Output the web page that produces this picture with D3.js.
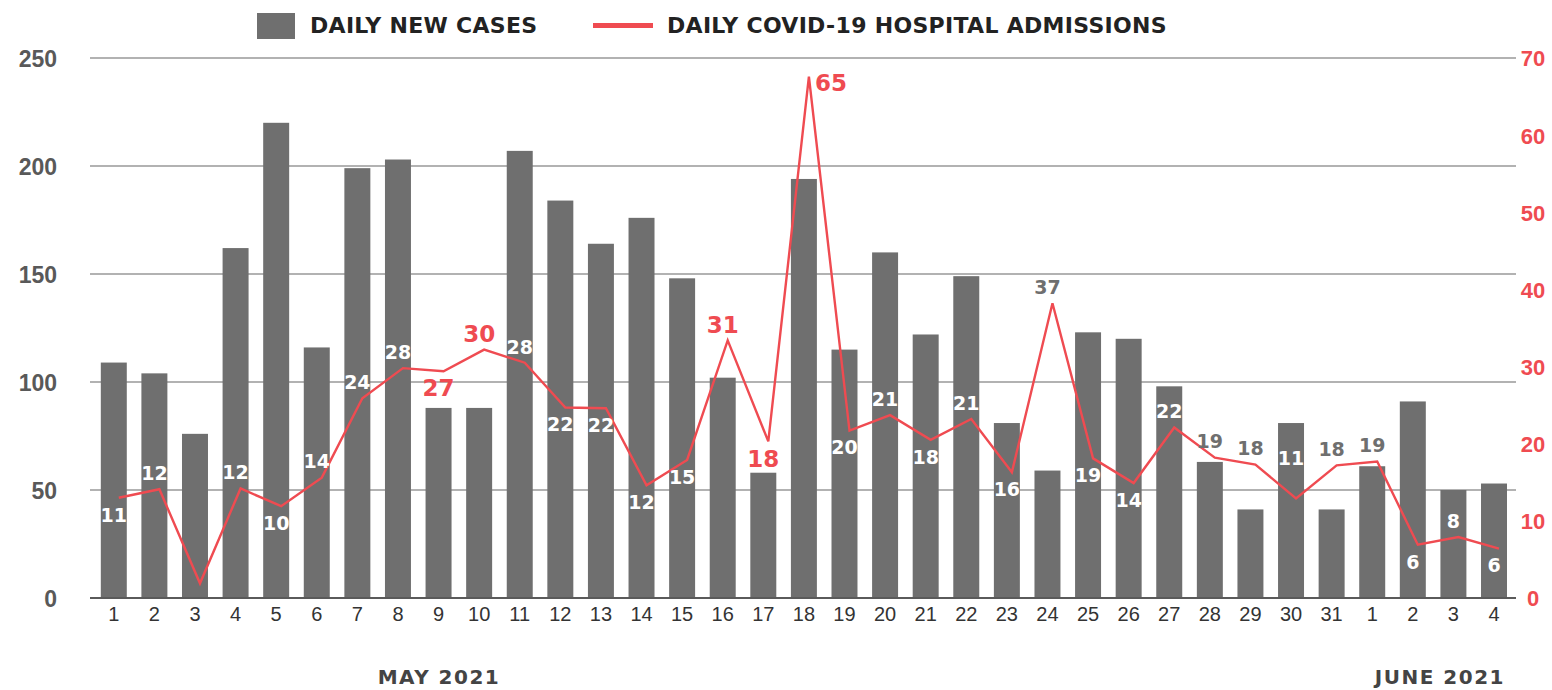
<!DOCTYPE html>
<html>
<head>
<meta charset="utf-8">
<script src="https://cdn.jsdelivr.net/npm/d3@7"></script>
<style>
  body { margin: 0; background: #fff; }
  svg { display: block; font-family: "DejaVu Sans", sans-serif; }
</style>
</head>
<body>
<div id="chart"></div>
<script>
// May 1 .. June 4, 2021
const days = ["1","2","3","4","5","6","7","8","9","10","11","12","13","14","15","16","17","18","19","20",
  "21","22","23","24","25","26","27","28","29","30","31","1","2","3","4"];
const dayKeys = days.map((d, i) => (i < 31 ? "May " : "Jun ") + d);

const newCases = [109, 104, 76, 162, 220, 116, 199, 203, 88, 88, 207, 184, 164, 176, 148, 102, 58, 194,
  115, 160, 122, 149, 81, 59, 123, 120, 98, 63, 41, 81, 41, 61, 91, 50, 53];

// plotted line (as drawn) and the printed value labels
const admissions = [13.0, 14.1, 1.9, 14.2, 11.9, 15.6, 25.9, 29.8, 29.4, 32.2, 30.5, 24.7, 24.6, 14.6, 17.9,
  33.4, 20.3, 67.6, 21.7, 23.7, 20.5, 23.2, 16.3, 38.2, 18.1, 14.9, 22.1, 18.2, 17.3, 12.9, 17.2, 17.7, 6.9, 7.9, 6.4];
const admissionLabels = [11, 12, null, 12, 10, 14, 24, 28, 27, 30, 28, 22, 22, 12, 15, 31, 18, 65, 20, 21,
  18, 21, 16, 37, 19, 14, 22, 19, 18, 11, 18, 19, 6, 8, 6];
const highlighted = ["May 9", "May 10", "May 16", "May 17", "May 18"];

const casesTicks = [0, 50, 100, 150, 200, 250];
const admissionTicks = [0, 10, 20, 30, 40, 50, 60, 70];

// where each label sits relative to its point: a = above, A = well above, b = below, r = right
const labelSide = ["b","a",null,"a","b","a","a","a","b","a","a","b","b","b","b","a","b","r","b","a",
  "b","a","b","a","b","b","a","a","a","A","a","a","b","a","b"];

const W = 1552, H = 690;
const RED = "#ef4b51", BAR = "#6f6f6f";

const svg = d3.select("#chart").append("svg")
  .attr("width", W)
  .attr("height", H);

const x = d3.scaleBand()
  .domain(dayKeys)
  .range([93.5, 1514.3])
  .paddingInner(0.36)
  .paddingOuter(0.18);

const yL = d3.scaleLinear().domain([0, 250]).range([598, 58]);
const yR = d3.scaleLinear().domain([0, 70]).range([598, 58]);

const cx = k => x(k) + x.bandwidth() / 2;
const lineX = k => cx(k) + 5;

// gridlines
svg.append("g")
  .selectAll("line")
  .data(casesTicks.filter(t => t > 0))
  .join("line")
  .attr("x1", 90)
  .attr("x2", 1516)
  .attr("y1", d => yL(d))
  .attr("y2", d => yL(d))
  .attr("stroke", "#666")
  .attr("stroke-width", 1.2);

// bars
svg.append("g")
  .selectAll("rect")
  .data(newCases)
  .join("rect")
  .attr("x", (d, i) => x(dayKeys[i]))
  .attr("y", d => yL(d))
  .attr("width", x.bandwidth())
  .attr("height", d => yL(0) - yL(d))
  .attr("fill", BAR);

// baseline
svg.append("line")
  .attr("x1", 90).attr("x2", 1516)
  .attr("y1", 598).attr("y2", 598)
  .attr("stroke", "#5a5a5a")
  .attr("stroke-width", 2.2);

// left axis
const leftAxis = svg.append("g")
  .attr("transform", "translate(57,0)")
  .call(d3.axisLeft(yL).tickValues(casesTicks).tickSize(0).tickPadding(0));
leftAxis.select(".domain").remove();
leftAxis.selectAll("text")
  .attr("fill", "#595959")
  .style("font-size", "23px")
  .style("font-weight", "bold")
  .attr("dy", "0.36em");

// right axis
const rightAxis = svg.append("g")
  .attr("transform", "translate(1533,0)")
  .call(d3.axisRight(yR).tickValues(admissionTicks).tickSize(0).tickPadding(0));
rightAxis.select(".domain").remove();
rightAxis.selectAll("text")
  .attr("fill", RED)
  .attr("text-anchor", "middle")
  .style("font-size", "22px")
  .style("font-weight", "bold")
  .attr("dy", "0.36em");

// x axis
const xAxis = svg.append("g")
  .attr("transform", "translate(0,598)")
  .call(d3.axisBottom(x).tickSize(0).tickPadding(0).tickFormat((d, i) => days[i]));
xAxis.select(".domain").remove();
xAxis.selectAll("text")
  .attr("fill", "#333")
  .attr("y", 16)
  .attr("dy", "0.36em")
  .style("font-size", "20px")
  .style("font-weight", "300");

// month labels
svg.selectAll(".month")
  .data([
    { text: "MAY 2021", x: 439, anchor: "middle" },
    { text: "JUNE 2021", x: 1505, anchor: "end" }
  ])
  .join("text")
  .attr("class", "month")
  .attr("x", d => d.x)
  .attr("y", 684)
  .attr("text-anchor", d => d.anchor)
  .attr("fill", "#444")
  .style("font-size", "20px")
  .style("font-weight", "bold")
  .style("letter-spacing", "1.5px")
  .text(d => d.text);

// admissions line
const line = d3.line()
  .x((d, i) => lineX(dayKeys[i]))
  .y(d => yR(d));

svg.append("path")
  .datum(admissions)
  .attr("d", line)
  .attr("fill", "none")
  .attr("stroke", RED)
  .attr("stroke-width", 2.4)
  .attr("stroke-linejoin", "miter");

// value labels
const labelData = admissionLabels
  .map((v, i) => ({ v, i, key: dayKeys[i], side: labelSide[i] }))
  .filter(d => d.v !== null);

svg.append("g")
  .selectAll("text")
  .data(labelData)
  .join("text")
  .each(function (d) {
    const py = yR(admissions[d.i]);
    const hot = highlighted.includes(d.key);
    let lx = cx(d.key), ly, anchor = "middle";
    if (d.side === "a") ly = py - 16;
    else if (d.side === "A") ly = py - 40;
    else if (d.side === "b") ly = py + 17;
    else { lx = lineX(d.key) + 6; ly = py + 6; anchor = "start"; }
    const barTop = yL(newCases[d.i]);
    const fill = hot ? RED : (ly - 8 > barTop ? "#fff" : "#6f6f6f");
    d3.select(this)
      .attr("x", lx)
      .attr("y", ly)
      .attr("dy", "0.36em")
      .attr("text-anchor", anchor)
      .attr("fill", fill)
      .style("font-size", hot ? "23px" : "19px")
      .style("font-weight", hot ? "bold" : "600")
      .text(d.v);
  });

// legend
const legend = svg.append("g");
legend.append("rect")
  .attr("x", 257).attr("y", 13)
  .attr("width", 38).attr("height", 26)
  .attr("fill", BAR);
legend.append("text")
  .attr("x", 310).attr("y", 33)
  .attr("fill", "#222")
  .style("font-size", "22px")
  .style("font-weight", "bold")
  .style("letter-spacing", "0.3px")
  .text("DAILY NEW CASES");
legend.append("line")
  .attr("x1", 593).attr("x2", 653)
  .attr("y1", 25.5).attr("y2", 25.5)
  .attr("stroke", RED)
  .attr("stroke-width", 5);
legend.append("text")
  .attr("x", 667).attr("y", 33)
  .attr("fill", "#222")
  .style("font-size", "22px")
  .style("font-weight", "bold")
  .style("letter-spacing", "0.3px")
  .text("DAILY COVID-19 HOSPITAL ADMISSIONS");
</script>
</body>
</html>
